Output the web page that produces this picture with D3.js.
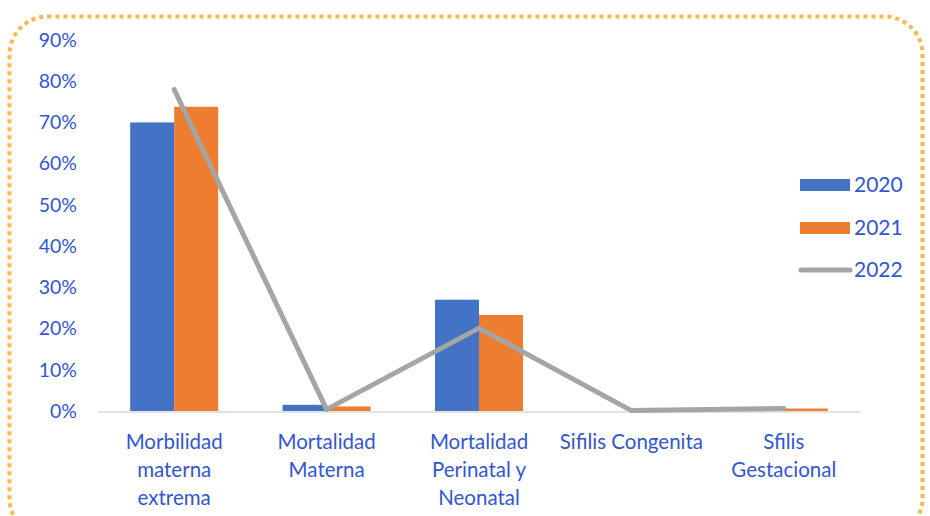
<!DOCTYPE html>
<html lang="es">
<head>
<meta charset="UTF-8">
<script src="https://d3js.org/d3.v7.min.js"></script>
<style>
  body { margin: 0; background: #fff; }
  text { font-family: Lato, "Open Sans", sans-serif; fill: #3356cf; }
</style>
</head>
<body>
<div id="chart"></div>
<script>
// categories and values (fractions)
const categories = [
  ["Morbilidad", "materna", "extrema"],
  ["Mortalidad", "Materna"],
  ["Mortalidad", "Perinatal y", "Neonatal"],
  ["Sifilis Congenita"],
  ["Sfilis", "Gestacional"]
];
const values2020 = [0.70, 0.015, 0.27, 0.0, 0.0];
const values2021 = [0.738, 0.011, 0.233, 0.0, 0.006];
const values2022 = [0.78, 0.004, 0.201, 0.001, 0.006];
const yTicks = [0, 0.1, 0.2, 0.3, 0.4, 0.5, 0.6, 0.7, 0.8, 0.9];
const seriesNames = ["2020", "2021", "2022"];
const colors = ["#4472c4", "#ed7d31", "#a5a5a5"];

const width = 930, height = 516;
const svg = d3.select("#chart").append("svg")
  .attr("width", width)
  .attr("height", height);

// dotted rounded frame
svg.append("rect")
  .attr("x", 9.5).attr("y", 16.5)
  .attr("width", 913).attr("height", 520)
  .attr("rx", 38).attr("ry", 38)
  .attr("fill", "none")
  .attr("stroke", "#fdb84d")
  .attr("stroke-width", 4)
  .attr("stroke-dasharray", "4 4");

const x = d3.scaleBand()
  .domain(d3.range(categories.length))
  .range([98, 860])
  .paddingInner(0)
  .paddingOuter(0);

const y = d3.scaleLinear()
  .domain([0, 0.9])
  .range([411, 40]);

const barW = 44;

// y labels
svg.append("g").selectAll("text")
  .data(yTicks)
  .join("text")
  .attr("x", 77)
  .attr("y", d => y(d))
  .attr("dy", "0.35em")
  .attr("text-anchor", "end")
  .attr("font-size", 19.5)
  .text(d3.format(".0%"));

// baseline
svg.append("line")
  .attr("x1", 98).attr("x2", 860)
  .attr("y1", y(0) + 1).attr("y2", y(0) + 1)
  .attr("stroke", "#d9d9d9")
  .attr("stroke-width", 1.5);

const cx = i => x(i) + x.bandwidth() / 2;

// bars
[values2020, values2021].forEach((vals, s) => {
  svg.append("g").selectAll("rect")
    .data(vals)
    .join("rect")
    .attr("x", (d, i) => cx(i) - barW + s * barW)
    .attr("y", d => y(d))
    .attr("width", barW)
    .attr("height", d => y(0) - y(d))
    .attr("fill", colors[s]);
});

// 2022 line
svg.append("path")
  .datum(values2022)
  .attr("fill", "none")
  .attr("stroke", colors[2])
  .attr("stroke-width", 5)
  .attr("stroke-linejoin", "round")
  .attr("stroke-linecap", "round")
  .attr("d", d3.line().x((d, i) => cx(i)).y(d => y(d)));

// x labels
const xl = svg.append("g").selectAll("text")
  .data(categories)
  .join("text")
  .attr("x", (d, i) => cx(i))
  .attr("y", 449)
  .attr("text-anchor", "middle")
  .attr("font-size", 20.5);
xl.selectAll("tspan")
  .data(d => d)
  .join("tspan")
  .attr("x", function () { return this.parentNode.getAttribute("x"); })
  .attr("dy", (d, i) => i === 0 ? 0 : 28)
  .text(d => d);

// legend
const legY = [185, 228, 270];
seriesNames.forEach((name, i) => {
  if (i < 2) {
    svg.append("rect")
      .attr("x", 800).attr("y", legY[i] - 6)
      .attr("width", 50).attr("height", 12)
      .attr("fill", colors[i]);
  } else {
    svg.append("line")
      .attr("x1", 801).attr("x2", 850)
      .attr("y1", legY[i]).attr("y2", legY[i])
      .attr("stroke", colors[i])
      .attr("stroke-width", 5)
      .attr("stroke-linecap", "round");
  }
  svg.append("text")
    .attr("x", 854)
    .attr("y", legY[i])
    .attr("dy", "0.35em")
    .attr("font-size", 21)
    .text(name);
});
</script>
</body>
</html>
